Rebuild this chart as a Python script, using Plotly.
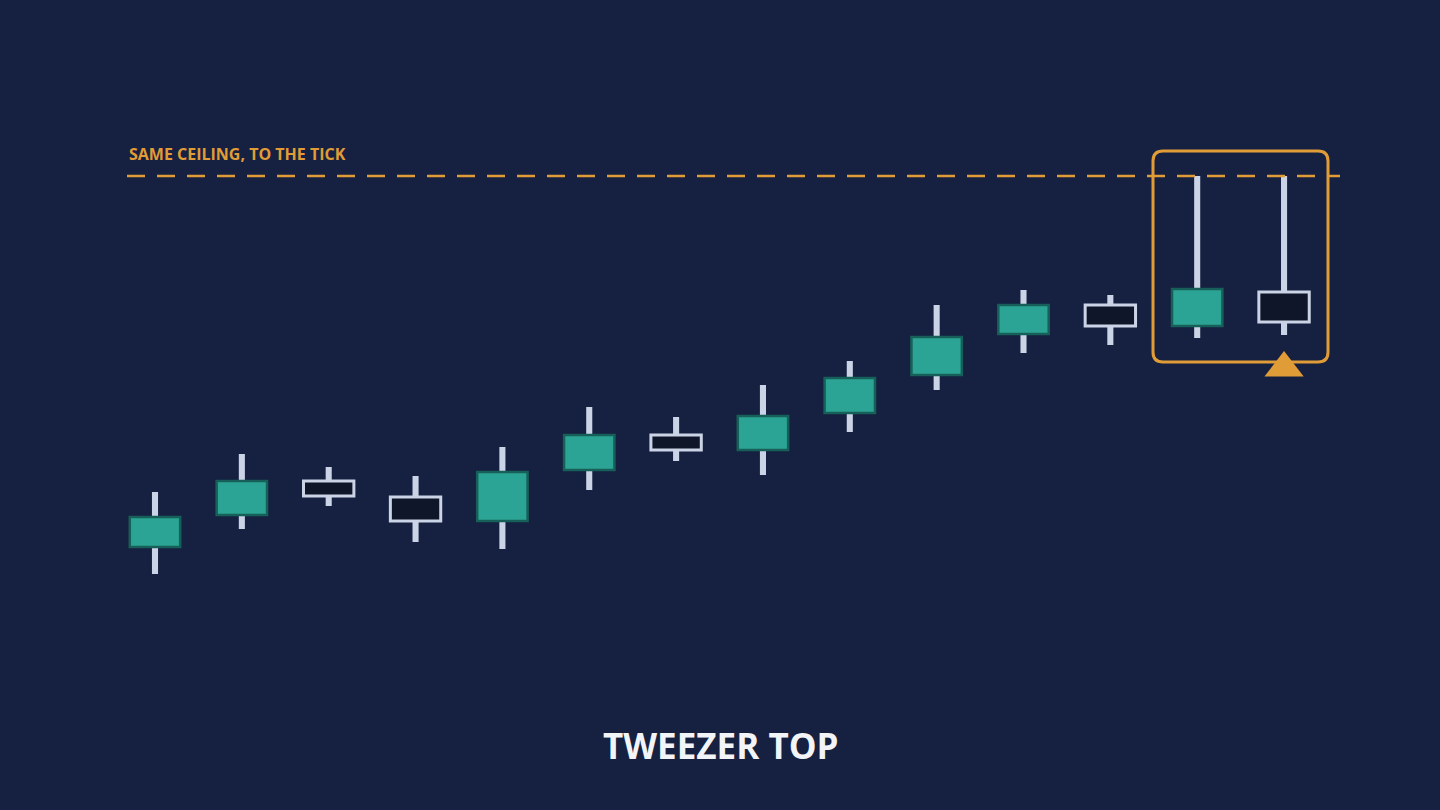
import plotly.graph_objects as go

# candle data, price units (higher = up)
highs = [318, 356, 343, 334, 363, 403, 393, 425, 449, 505, 520, 515, 634, 634]
lows = [236, 281, 304, 268, 261, 320, 349, 335, 378, 420, 457, 465, 472, 475]
opens = [263, 295, 329, 313, 289, 340, 375, 360, 397, 435, 476, 505, 484, 518]
closes = [293, 329, 314, 289, 338, 375, 360, 394, 432, 473, 505, 484, 521, 488]
bullish = [True, True, False, False, True, True, False, True, True, True, True, False, True, False]

BG = "#162040"
GREEN = "#2ca495"
GREEN_EDGE = "#17605a"
HOLLOW = "#0f1629"
PALE = "#cbd4e6"
ORANGE = "#e09c36"

STEP = 86.85
X0 = 155
def px_x(p):
    return (p - X0) / STEP
def px_y(p):
    return 810 - p

xs = list(range(len(highs)))
fig = go.Figure()

# wicks
fig.add_trace(go.Bar(x=xs, y=[h - l for h, l in zip(highs, lows)], base=lows,
                     width=0.07, marker=dict(color=PALE, line=dict(width=0)),
                     hoverinfo="skip"))

for bull in (True, False):
    idx = [i for i in xs if bullish[i] == bull]
    lo = [min(opens[i], closes[i]) for i in idx]
    hi = [max(opens[i], closes[i]) for i in idx]
    fig.add_trace(go.Bar(
        x=idx, y=[h - l for h, l in zip(hi, lo)], base=lo, width=0.58,
        marker=dict(color=GREEN if bull else HOLLOW,
                    line=dict(color=GREEN_EDGE if bull else PALE, width=2.5 if bull else 3)),
        hoverinfo="skip"))

ceiling = max(highs)
fig.add_trace(go.Scatter(x=[px_x(127), px_x(1340)], y=[ceiling, ceiling], mode="lines",
                         line=dict(color=ORANGE, width=2.5, dash="18px,12px"), hoverinfo="skip"))
fig.add_trace(go.Scatter(x=[xs[-1]], y=[px_y(368)], mode="markers",
                         marker=dict(symbol="triangle-up", size=34, color=ORANGE), hoverinfo="skip"))

# rounded highlight box (pixel coordinates converted)
l, r, t, b, rad = 1153, 1328, 151, 362, 10
path = (f"M {px_x(l+rad)},{px_y(t)} L {px_x(r-rad)},{px_y(t)} "
        f"Q {px_x(r)},{px_y(t)} {px_x(r)},{px_y(t+rad)} L {px_x(r)},{px_y(b-rad)} "
        f"Q {px_x(r)},{px_y(b)} {px_x(r-rad)},{px_y(b)} L {px_x(l+rad)},{px_y(b)} "
        f"Q {px_x(l)},{px_y(b)} {px_x(l)},{px_y(b-rad)} L {px_x(l)},{px_y(t+rad)} "
        f"Q {px_x(l)},{px_y(t)} {px_x(l+rad)},{px_y(t)} Z")
fig.add_shape(type="path", path=path, line=dict(color=ORANGE, width=3), layer="below")

fig.add_annotation(x=px_x(127), y=px_y(154), text="<b>SAME CEILING, TO THE TICK</b>",
                   showarrow=False, xanchor="left", yanchor="middle",
                   font=dict(family="Open Sans", size=16, color=ORANGE))
fig.add_annotation(x=0.5, xref="paper", y=px_y(745), text="<b>TWEEZER TOP</b>",
                   showarrow=False, font=dict(family="Open Sans", size=35, color="#f2f4f8"))

fig.update_layout(
    width=1440, height=810, margin=dict(l=0, r=0, t=0, b=0),
    paper_bgcolor=BG, plot_bgcolor=BG, showlegend=False, barmode="overlay",
    xaxis=dict(range=[px_x(0), px_x(1440)], visible=False, fixedrange=True),
    yaxis=dict(range=[0, 810], visible=False, fixedrange=True),
)
fig.write_html("out.html", config={"displayModeBar": False},
               post_script="document.body.style.margin='0';document.body.style.background='#162040';")
